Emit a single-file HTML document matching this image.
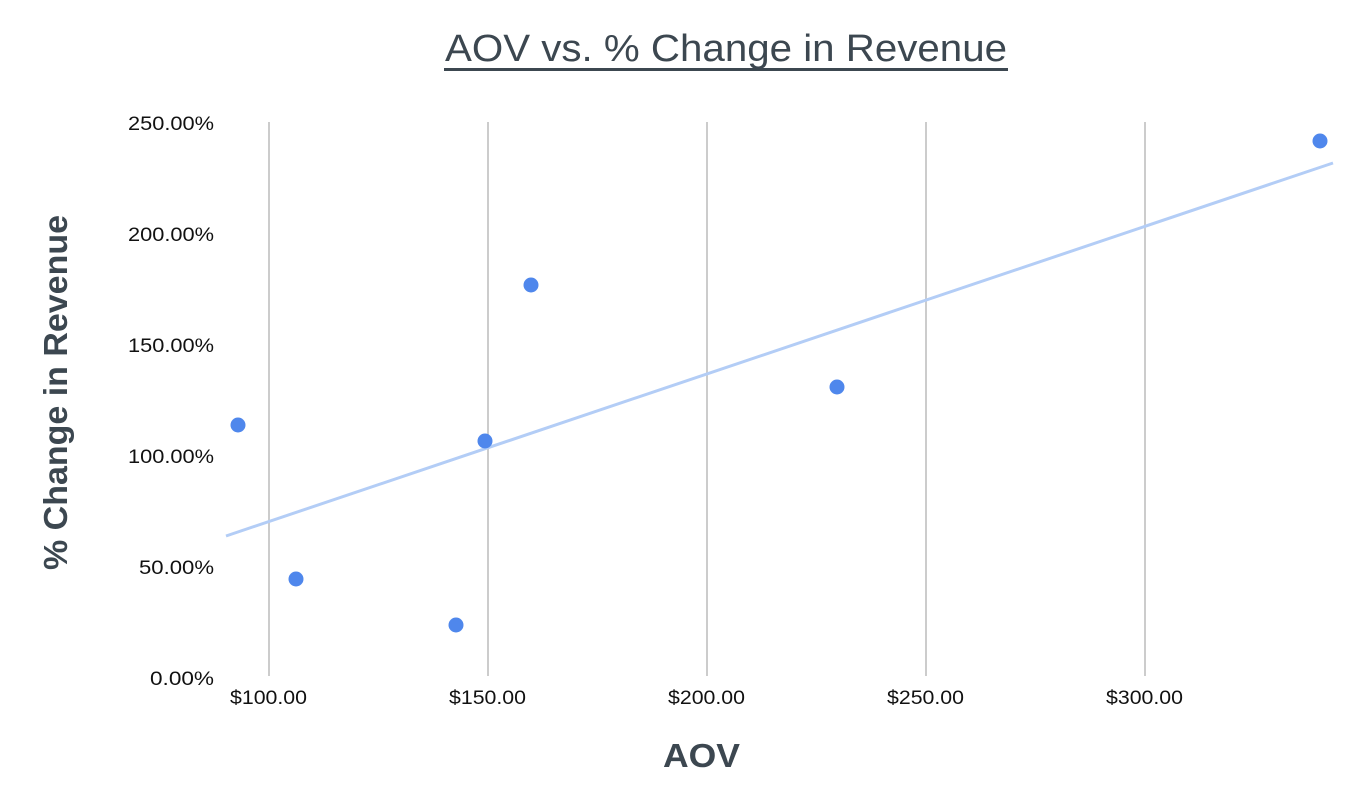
<!DOCTYPE html>
<html><head><meta charset="utf-8"><style>
html,body{margin:0;padding:0;background:#fff;}
svg{display:block;}
</style></head><body>
<svg width="1360" height="808" viewBox="0 0 1360 808" xmlns="http://www.w3.org/2000/svg" font-family="Liberation Sans, Arial, sans-serif">
<rect width="1360" height="808" fill="#fff"/>
<text x="445" y="61" font-size="38" fill="#3c4750" textLength="562" lengthAdjust="spacingAndGlyphs">AOV vs. % Change in Revenue</text>
<rect x="444" y="68" width="564" height="3" fill="#3c4750"/>
<g stroke="#cccccc" stroke-width="2">
<line x1="269" y1="122" x2="269" y2="676"/>
<line x1="488" y1="122" x2="488" y2="676"/>
<line x1="707" y1="122" x2="707" y2="676"/>
<line x1="926" y1="122" x2="926" y2="676"/>
<line x1="1145" y1="122" x2="1145" y2="676"/>
</g>
<g font-size="19" fill="#111">
<text x="128" y="130" textLength="86" lengthAdjust="spacingAndGlyphs">250.00%</text>
<text x="128" y="241" textLength="86" lengthAdjust="spacingAndGlyphs">200.00%</text>
<text x="128" y="352" textLength="86" lengthAdjust="spacingAndGlyphs">150.00%</text>
<text x="128" y="463" textLength="86" lengthAdjust="spacingAndGlyphs">100.00%</text>
<text x="139" y="574" textLength="75" lengthAdjust="spacingAndGlyphs">50.00%</text>
<text x="150" y="685" textLength="64" lengthAdjust="spacingAndGlyphs">0.00%</text>
</g>
<g font-size="19" fill="#111">
<text x="230" y="704" textLength="77" lengthAdjust="spacingAndGlyphs">$100.00</text>
<text x="449" y="704" textLength="77" lengthAdjust="spacingAndGlyphs">$150.00</text>
<text x="668" y="704" textLength="77" lengthAdjust="spacingAndGlyphs">$200.00</text>
<text x="887" y="704" textLength="77" lengthAdjust="spacingAndGlyphs">$250.00</text>
<text x="1106" y="704" textLength="77" lengthAdjust="spacingAndGlyphs">$300.00</text>
</g>
<line x1="226" y1="536" x2="1333" y2="163" stroke="#b3cdf6" stroke-width="3"/>
<g fill="#4f87ec">
<circle cx="238" cy="425" r="7.5"/>
<circle cx="296" cy="579" r="7.5"/>
<circle cx="456" cy="625" r="7.5"/>
<circle cx="485" cy="441" r="7.5"/>
<circle cx="531" cy="285" r="7.5"/>
<circle cx="837" cy="387" r="7.5"/>
<circle cx="1320" cy="141" r="7.5"/>
</g>
<text x="663" y="767" font-size="33" font-weight="bold" fill="#3c4750" textLength="77" lengthAdjust="spacingAndGlyphs">AOV</text>
<text transform="translate(67,570) rotate(-90)" font-size="33" font-weight="bold" fill="#3c4750" textLength="355" lengthAdjust="spacingAndGlyphs">% Change in Revenue</text>
</svg>
</body></html>
